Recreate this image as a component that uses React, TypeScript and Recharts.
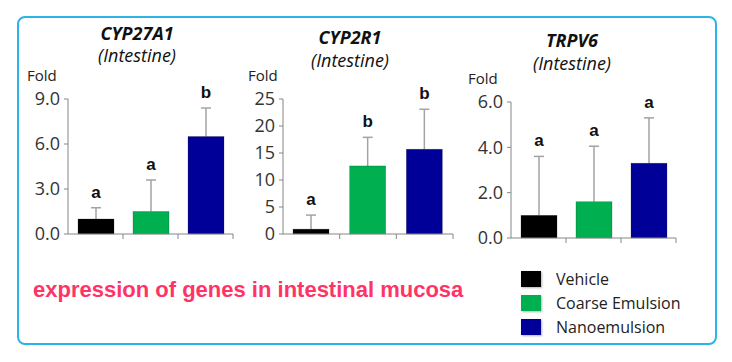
import { BarChart, Bar, XAxis, YAxis } from "recharts";

const groups = ["Vehicle", "Coarse Emulsion", "Nanoemulsion"];
const groupColors = ["#000000", "#00b050", "#000099"];

const cyp27a1Means = [1.0, 1.5, 6.5];
const cyp27a1ErrTop = [1.75, 3.6, 8.4];
const cyp27a1Letters = ["a", "a", "b"];
const cyp27a1Ticks = [0, 3, 6, 9];

const cyp2r1Means = [0.9, 12.6, 15.7];
const cyp2r1ErrTop = [3.5, 17.9, 23.1];
const cyp2r1Letters = ["a", "b", "b"];
const cyp2r1Ticks = [0, 5, 10, 15, 20, 25];

const trpv6Means = [1.0, 1.6, 3.3];
const trpv6ErrTop = [3.6, 4.05, 5.3];
const trpv6Letters = ["a", "a", "a"];
const trpv6Ticks = [0, 2, 4, 6];

const FONT = "'Open Sans', sans-serif";
const AXIS = "#868686";
const Y_AXIS_W = 50;

const buildRows = (means: number[], tops: number[], letters: string[]) =>
  groups.map((g, i) => ({ group: g, mean: means[i], top: tops[i], letter: letters[i] }));

// bar + upper whisker + significance letter, all placed from the bar's own geometry
const BarWithError = (props: any) => {
  const { x, y, width, height, payload } = props;
  const perUnit = payload.mean > 0 ? height / payload.mean : 0;
  const base = y + height;
  const topY = base - payload.top * perUnit;
  const cx = x + width / 2;
  const color = groupColors[groups.indexOf(payload.group)];
  return (
    <g>
      <line x1={cx} x2={cx} y1={y} y2={topY} stroke="#a3a3a3" strokeWidth={1.5} />
      <line x1={cx - 5} x2={cx + 5} y1={topY} y2={topY} stroke="#a3a3a3" strokeWidth={1.5} />
      <rect x={x} y={y} width={width} height={height} fill={color} stroke="#222" strokeOpacity={0.4} strokeWidth={0.6} />
      <text
        x={cx}
        y={topY - 10}
        textAnchor="middle"
        fontFamily="'Liberation Sans', Arial, sans-serif"
        fontWeight="bold"
        fontSize={17}
        fill="#111"
      >
        {payload.letter}
      </text>
    </g>
  );
};

interface PanelProps {
  left: number;
  width: number;
  height: number;
  margin: { top: number; right: number; left: number; bottom: number };
  rows: any[];
  ticks: number[];
  decimals: number;
}

function Panel({ left, width, height, margin, rows, ticks, decimals }: PanelProps) {
  const band = (width - margin.left - margin.right - Y_AXIS_W) / rows.length;
  const BoundaryTick = (p: any) => (
    <line x1={p.x + band / 2} x2={p.x + band / 2} y1={p.y} y2={p.y + 5} stroke={AXIS} />
  );
  return (
    <div style={{ position: "absolute", left, top: 0 }}>
      <BarChart width={width} height={height} data={rows} margin={margin} barSize={36}>
        <XAxis
          dataKey="group"
          height={16}
          stroke={AXIS}
          tickLine={false}
          tickSize={0}
          tickMargin={0}
          tick={BoundaryTick}
          interval={0}
        />
        <YAxis
          width={Y_AXIS_W}
          domain={[ticks[0], ticks[ticks.length - 1]]}
          ticks={ticks}
          interval={0}
          stroke={AXIS}
          tickSize={4}
          tickMargin={4}
          tickFormatter={(v: number) => v.toFixed(decimals)}
          tick={{ fill: "#333", fontSize: 18, fontFamily: FONT }}
        />
        <Bar dataKey="mean" isAnimationActive={false} shape={BarWithError} />
      </BarChart>
    </div>
  );
}

const titleStyle = (cx: number, top: number, bold: boolean): React.CSSProperties => ({
  position: "absolute",
  left: cx - 80,
  width: 160,
  top,
  textAlign: "center",
  fontFamily: FONT,
  fontStyle: "italic",
  fontWeight: bold ? 700 : 400,
  fontSize: 18,
  lineHeight: "22px",
  color: "#111",
});

const foldStyle = (left: number, top: number): React.CSSProperties => ({
  position: "absolute",
  left,
  top,
  fontFamily: FONT,
  fontSize: 15,
  lineHeight: "20px",
  color: "#222",
});

export default function App() {
  return (
    <div
      style={{
        position: "fixed",
        left: 0,
        top: 0,
        width: 732,
        height: 362,
        background: "#fff",
        overflow: "hidden",
      }}
    >
      <div
        style={{
          position: "absolute",
          left: 17,
          top: 16,
          width: 700,
          height: 329,
          border: "2px solid #2cb4e6",
          borderRadius: 8,
          boxSizing: "border-box",
        }}
      />

      <Panel
        left={0}
        width={245}
        height={250}
        margin={{ top: 99, right: 12, left: 18, bottom: 0 }}
        rows={buildRows(cyp27a1Means, cyp27a1ErrTop, cyp27a1Letters)}
        ticks={cyp27a1Ticks}
        decimals={1}
      />
      <Panel
        left={215}
        width={250}
        height={250}
        margin={{ top: 99, right: 12, left: 18, bottom: 0 }}
        rows={buildRows(cyp2r1Means, cyp2r1ErrTop, cyp2r1Letters)}
        ticks={cyp2r1Ticks}
        decimals={0}
      />
      <Panel
        left={445}
        width={245}
        height={254}
        margin={{ top: 102, right: 14, left: 16, bottom: 0 }}
        rows={buildRows(trpv6Means, trpv6ErrTop, trpv6Letters)}
        ticks={trpv6Ticks}
        decimals={1}
      />

      <div style={titleStyle(137, 22, true)}>CYP27A1</div>
      <div style={titleStyle(137, 44, false)}>(Intestine)</div>
      <div style={titleStyle(350, 26, true)}>CYP2R1</div>
      <div style={titleStyle(350, 49, false)}>(Intestine)</div>
      <div style={titleStyle(572, 29, true)}>TRPV6</div>
      <div style={titleStyle(572, 52, false)}>(Intestine)</div>

      <div style={foldStyle(27, 65)}>Fold</div>
      <div style={foldStyle(248, 65)}>Fold</div>
      <div style={foldStyle(468, 68)}>Fold</div>

      <div
        style={{
          position: "absolute",
          left: 33,
          top: 276,
          fontFamily: "'Liberation Sans', Arial, sans-serif",
          fontWeight: 700,
          fontSize: 22,
          lineHeight: "28px",
          color: "#ff3366",
          whiteSpace: "nowrap",
        }}
      >
        expression of genes in intestinal mucosa
      </div>

      {groups.map((g, i) => (
        <div
          key={g}
          style={{ position: "absolute", left: 521, top: 270 + i * 24, display: "flex", alignItems: "center" }}
        >
          <div style={{ width: 20, height: 16, background: groupColors[i], boxShadow: "1px 1px 2px rgba(0,0,0,0.3)" }} />
          <div
            style={{
              marginLeft: 15,
              fontFamily: FONT,
              fontSize: 16,
              lineHeight: "18px",
              color: "#222",
              whiteSpace: "nowrap",
            }}
          >
            {g}
          </div>
        </div>
      ))}
    </div>
  );
}
